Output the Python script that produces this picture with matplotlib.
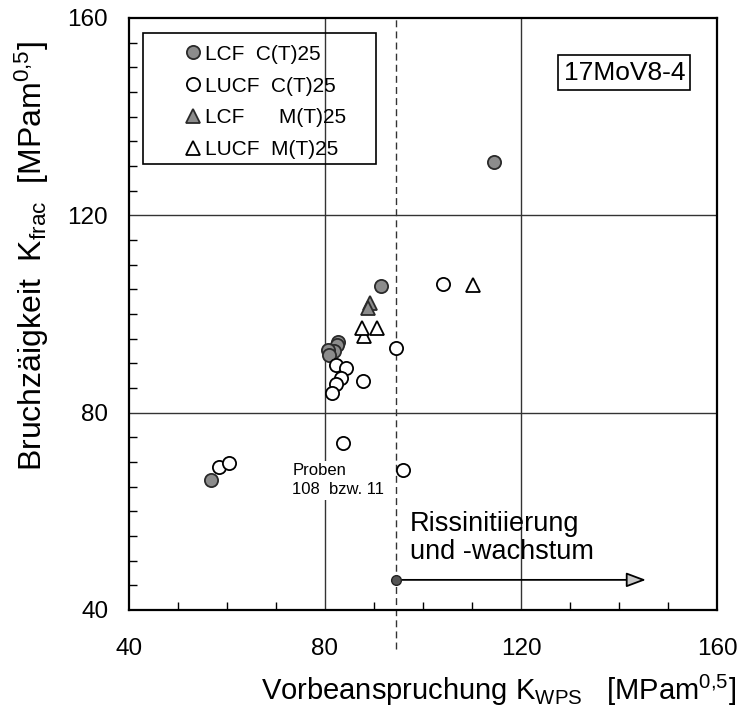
import matplotlib
matplotlib.use("Agg")
import matplotlib.pyplot as plt
from matplotlib.patches import Rectangle
from matplotlib.ticker import MultipleLocator

plt.rcParams["font.family"] = ["Liberation Sans", "DejaVu Sans"]
plt.rcParams["mathtext.fontset"] = "custom"
plt.rcParams["mathtext.rm"] = "Liberation Sans"
plt.rcParams["mathtext.it"] = "Liberation Sans:italic"

# ------------------------------------------------------------
# Data
# ------------------------------------------------------------
lcf_ct_x = [114.5, 91.5, 82.7, 82.5, 81.8, 80.7, 80.8, 56.8]
lcf_ct_y = [130.9, 105.6, 94.4, 93.8, 92.4, 92.7, 91.7, 66.4]

lucf_ct_x = [104.0, 94.5, 82.2, 84.2, 83.2, 87.7, 82.3, 81.5, 83.7, 95.9, 58.3, 60.5]
lucf_ct_y = [106.1, 93.2, 89.7, 89.0, 87.0, 86.5, 85.8, 84.0, 73.8, 68.4, 69.0, 69.8]

lcf_mt_x = [89.1, 88.8]
lcf_mt_y = [102.2, 101.2]

lucf_mt_x = [110.3, 87.9, 87.6, 90.6]
lucf_mt_y = [105.9, 95.6, 97.1, 97.1]

labels = ["LCF  C(T)25", "LUCF  C(T)25", "LCF      M(T)25", "LUCF  M(T)25"]

wps_limit = 94.5      # dashed line / start of crack initiation
arrow_y = 46.1
arrow_end = 145.5

ticks = [40, 80, 120, 160]

# ------------------------------------------------------------
# Figure
# ------------------------------------------------------------
fig = plt.figure(figsize=(7.4, 7.15), dpi=100)
ax = fig.add_axes([0.1743, 0.1469, 0.7946, 0.828])

for v in [80, 120]:
    ax.axvline(v, color="#333333", lw=1.0, zorder=1)
    ax.axhline(v, color="#333333", lw=1.0, zorder=1)

ax.plot([wps_limit, wps_limit], [32, 160], ls=(0, (5, 3)), color="#333333",
        lw=1.0, clip_on=False, zorder=1)

ax.annotate("", xy=(arrow_end, arrow_y), xytext=(wps_limit, arrow_y),
            arrowprops=dict(arrowstyle="-|>,head_length=1.2,head_width=0.45",
                            fc="#c8c8c8", ec="black", lw=1.3,
                            shrinkA=0, shrinkB=0), zorder=2)
ax.plot(wps_limit, arrow_y, "o", ms=7, mfc="#555555", mec="#222222", zorder=3)

circ = dict(ls="none", marker="o", ms=9.5, mew=1.3, zorder=4)
tri = dict(ls="none", marker="^", ms=10.5, mew=1.3, zorder=4)
h1, = ax.plot(lcf_ct_x, lcf_ct_y, mfc="#8c8c8c", mec="#2a2a2a", label=labels[0], **circ)
h2, = ax.plot(lucf_ct_x, lucf_ct_y, mfc="white", mec="black", label=labels[1], **circ)
h3, = ax.plot(lcf_mt_x, lcf_mt_y, mfc="#8c8c8c", mec="#2a2a2a", label=labels[2], **tri)
h4, = ax.plot(lucf_mt_x, lucf_mt_y, mfc="white", mec="black", label=labels[3], **tri)

# legend without frame + manual frame
ax.legend(handles=[h1, h2, h3, h4], loc="upper left", bbox_to_anchor=(0.0986, 0.955),
          frameon=False, fontsize=15, handlelength=0.55, handletextpad=0.3,
          labelspacing=0.62, borderpad=0, borderaxespad=0)
ax.add_patch(Rectangle((14 / 588, 446 / 592), 233 / 588, 131 / 592, fill=False,
                       ec="black", lw=1.2, transform=ax.transAxes, zorder=5))

ax.text(141.1, 148.9, "17MoV8-4", fontsize=19, ha="center", va="center",
        bbox=dict(boxstyle="square,pad=0.2", fc="white", ec="black", lw=1.2))

ax.text(73.3, 66.3, "Proben\n108  bzw. 11", fontsize=12, ha="left", va="center",
        linespacing=1.3, zorder=3,
        bbox=dict(boxstyle="square,pad=0.15", fc="white", ec="none"))

ax.text(97.3, 54.6, "Rissinitiierung\nund -wachstum", fontsize=19.5, ha="left",
        va="center", linespacing=1.1)

# ------------------------------------------------------------
# Axes styling
# ------------------------------------------------------------
ax.set_xlim(40, 160)
ax.set_ylim(40, 160)
ax.set_xticks(ticks)
ax.set_yticks(ticks)
ax.xaxis.set_minor_locator(MultipleLocator(10))
ax.yaxis.set_minor_locator(MultipleLocator(5))
ax.tick_params(which="major", length=0, labelsize=17.5)
ax.tick_params(axis="x", which="major", pad=20)
ax.tick_params(axis="y", which="major", pad=15)
ax.tick_params(which="minor", direction="in", length=6, width=1.0)
for s in ax.spines.values():
    s.set_linewidth(1.6)

fig.text(499 / 740, 1 - 690 / 715,
         "Vorbeanspruchung K$_{\\mathrm{WPS}}$   [MPam$^{0{,}5}$]",
         fontsize=21, ha="center", va="center")
fig.text(32 / 740, 1 - 256 / 715,
         "Bruchzäigkeit  K$_{\\mathrm{frac}}$  [MPam$^{0{,}5}$]",
         fontsize=23, ha="center", va="center", rotation=90)

fig.savefig("out.png", dpi=100)
